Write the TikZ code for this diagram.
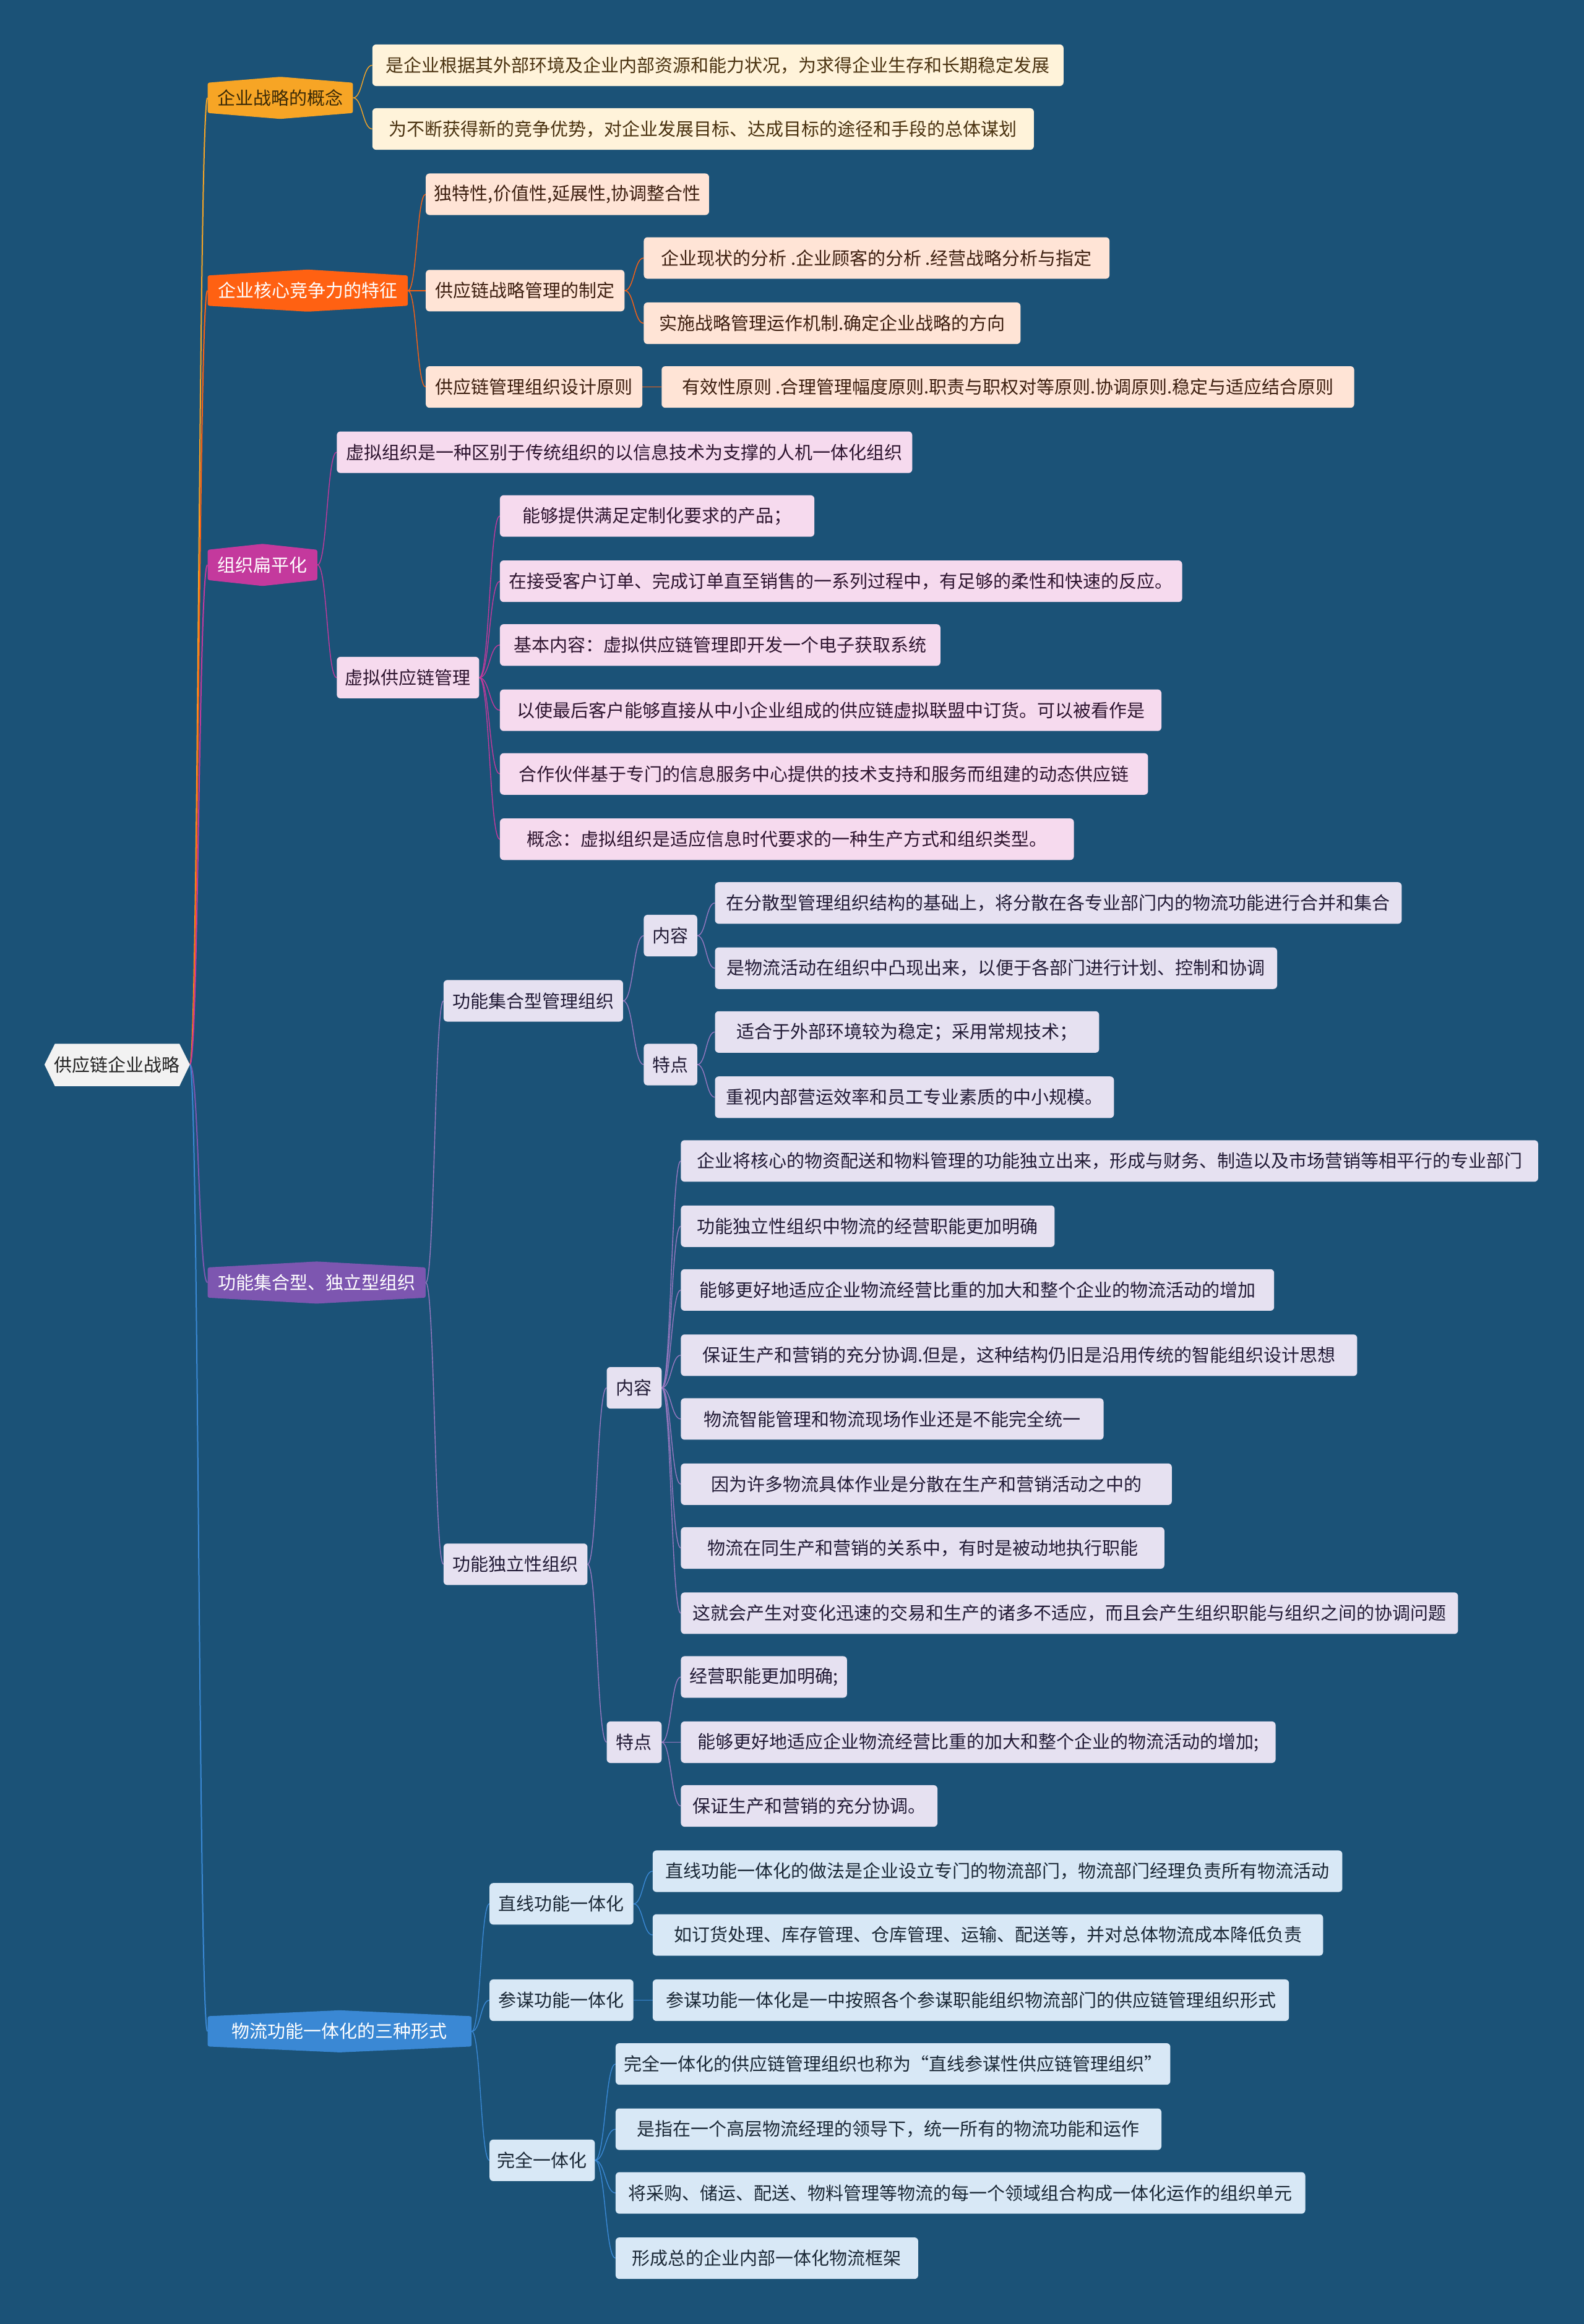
\documentclass[tikz,border=0pt]{standalone}
\usepackage{fontspec}
\setmainfont{Noto Sans CJK SC}
\usetikzlibrary{calc}
\pgfdeclarelayer{back}
\pgfsetlayers{back,main}
\definecolor{bgc}{HTML}{1B5277}
\definecolor{rootfill}{HTML}{F2F2F2}
\definecolor{roottxt}{HTML}{222222}
\definecolor{cA}{HTML}{F7A525}
\definecolor{cB}{HTML}{FF6112}
\definecolor{cC}{HTML}{C4399D}
\definecolor{cD}{HTML}{7D56B0}
\definecolor{cE}{HTML}{3A88D4}
\definecolor{lA}{HTML}{FFF3DA}
\definecolor{lB}{HTML}{FFE4D6}
\definecolor{lC}{HTML}{F6DAEE}
\definecolor{lD}{HTML}{E6E1F1}
\definecolor{lE}{HTML}{D8E8F6}
\definecolor{tA}{HTML}{4A3210}
\definecolor{tB}{HTML}{3D1F10}
\definecolor{tC}{HTML}{2E1530}
\definecolor{tD}{HTML}{221B36}
\definecolor{tE}{HTML}{1B2836}
\definecolor{tL1}{HTML}{3B2A07}
\newcommand\myfs{\fontsize{29pt}{34pt}\selectfont}
\newcommand\conn[3]{%
  \path (#2) coordinate (pA) (#3.west) coordinate (pB) ($(pA)!0.5!(pB)$) coordinate (pM);
  \draw[#1] (pA) .. controls (pM |- pA) and (pM |- pB) .. (pB);}
\newcommand\lone[7]{%
  \fill[#5, rounded corners=3pt] (#2,#4-10.2) -- ({(#2+#3)/2},#4-14.2) -- (#3,#4-10.2) -- (#3,#4+10.2) -- ({(#2+#3)/2},#4+14.2) -- (#2,#4+10.2) -- cycle;
  \node[font=\myfs, text=#6, inner sep=0pt, minimum width={(#3-#2)*2.397pt}, minimum height=20.4*2.397pt] (#1) at ({(#2+#3)/2},#4) {#7};}
\begin{document}
\begin{tikzpicture}[x=2.397pt,y=-2.397pt,
  leaf/.style={rectangle, rounded corners=6pt, minimum height=28*2.397pt, inner xsep=0pt, inner ysep=0pt, anchor=west, font=\myfs},
  bw/.style={minimum width=#1*2.397pt},
  fA/.style={leaf, fill=lA, text=tA},
  fB/.style={leaf, fill=lB, text=tB},
  fC/.style={leaf, fill=lC, text=tC},
  fD/.style={leaf, fill=lD, text=tD},
  fE/.style={leaf, fill=lE, text=tE},
  rl/.style={line width=2pt},
  kA/.style={cA, line width=1.4pt},
  kB/.style={cB, line width=1.4pt},
  kC/.style={cC, line width=1.4pt},
  kD/.style={cD!80!white, line width=1.4pt},
  kE/.style={cE, line width=1.4pt}]
\begin{pgfonlayer}{back}
\fill[bgc] (0,0) rectangle (1068,1567.4);
\end{pgfonlayer}
\useasboundingbox (0,0) rectangle (1068,1567.4);

% root
\fill[rootfill] (37,704) -- (121,704) -- (128,718) -- (121,732.5) -- (37,732.5) -- (30,718) -- cycle;
\node[font=\myfs, text=roottxt, inner sep=0pt] (root) at (79,718) {供应链企业战略};
\coordinate (rootR) at (128,718);

% level 1
\lone{L1}{140}{238}{66}{cA}{tL1}{企业战略的概念}
\lone{L2}{140}{275}{196}{cB}{white}{企业核心竞争力的特征}
\lone{L3}{140}{214}{381}{cC}{white}{组织扁平化}
\lone{L4}{140}{287}{865}{cD}{white}{功能集合型、独立型组织}
\lone{L5}{140}{318}{1370}{cE}{white}{物流功能一体化的三种形式}

% branch 1
\node[fA,bw=466] (a1) at (251,44) {是企业根据其外部环境及企业内部资源和能力状况，为求得企业生存和长期稳定发展};
\node[fA,bw=446] (a2) at (251,87) {为不断获得新的竞争优势，对企业发展目标、达成目标的途径和手段的总体谋划};

% branch 2
\node[fB,bw=191] (b1) at (287,131) {独特性,价值性,延展性,协调整合性};
\node[fB,bw=134] (b2) at (287,196) {供应链战略管理的制定};
\node[fB,bw=314] (b21) at (434,174) {企业现状的分析 .企业顾客的分析 .经营战略分析与指定};
\node[fB,bw=254] (b22) at (434,218) {实施战略管理运作机制.确定企业战略的方向};
\node[fB,bw=146] (b3) at (287,261) {供应链管理组织设计原则};
\node[fB,bw=467] (b31) at (446,261) {有效性原则 .合理管理幅度原则.职责与职权对等原则.协调原则.稳定与适应结合原则};

% branch 3
\node[fC,bw=388] (c1) at (227,305) {虚拟组织是一种区别于传统组织的以信息技术为支撑的人机一体化组织};
\node[fC,bw=96] (c2) at (227,457) {虚拟供应链管理};
\node[fC,bw=212] (c21) at (337,348) {能够提供满足定制化要求的产品；};
\node[fC,bw=460] (c22) at (337,392) {在接受客户订单、完成订单直至销售的一系列过程中，有足够的柔性和快速的反应。};
\node[fC,bw=297] (c23) at (337,435) {基本内容：虚拟供应链管理即开发一个电子获取系统};
\node[fC,bw=446] (c24) at (337,479) {以使最后客户能够直接从中小企业组成的供应链虚拟联盟中订货。可以被看作是};
\node[fC,bw=437] (c25) at (337,522) {合作伙伴基于专门的信息服务中心提供的技术支持和服务而组建的动态供应链};
\node[fC,bw=387] (c26) at (337,566) {概念：虚拟组织是适应信息时代要求的一种生产方式和组织类型。};

% branch 4
\node[fD,bw=121] (d1) at (299,675) {功能集合型管理组织};
\node[fD,bw=36] (d11) at (434,631) {内容};
\node[fD,bw=463] (d111) at (482,609) {在分散型管理组织结构的基础上，将分散在各专业部门内的物流功能进行合并和集合};
\node[fD,bw=379] (d112) at (482,653) {是物流活动在组织中凸现出来，以便于各部门进行计划、控制和协调};
\node[fD,bw=36] (d12) at (434,718) {特点};
\node[fD,bw=259] (d121) at (482,696) {适合于外部环境较为稳定；采用常规技术；};
\node[fD,bw=269] (d122) at (482,740) {重视内部营运效率和员工专业素质的中小规模。};
\node[fD,bw=97] (d2) at (299,1055) {功能独立性组织};
\node[fD,bw=37] (d21) at (409,936) {内容};
\node[fD,bw=578] (d211) at (459,783) {企业将核心的物资配送和物料管理的功能独立出来，形成与财务、制造以及市场营销等相平行的专业部门};
\node[fD,bw=252] (d212) at (459,827) {功能独立性组织中物流的经营职能更加明确};
\node[fD,bw=400] (d213) at (459,870) {能够更好地适应企业物流经营比重的加大和整个企业的物流活动的增加};
\node[fD,bw=456] (d214) at (459,914) {保证生产和营销的充分协调.但是，这种结构仍旧是沿用传统的智能组织设计思想};
\node[fD,bw=285] (d215) at (459,957) {物流智能管理和物流现场作业还是不能完全统一};
\node[fD,bw=331] (d216) at (459,1001) {因为许多物流具体作业是分散在生产和营销活动之中的};
\node[fD,bw=326] (d217) at (459,1044) {物流在同生产和营销的关系中，有时是被动地执行职能};
\node[fD,bw=524] (d218) at (459,1088) {这就会产生对变化迅速的交易和生产的诸多不适应，而且会产生组织职能与组织之间的协调问题};
\node[fD,bw=37] (d22) at (409,1175) {特点};
\node[fD,bw=112] (d221) at (459,1131) {经营职能更加明确;};
\node[fD,bw=401] (d222) at (459,1175) {能够更好地适应企业物流经营比重的加大和整个企业的物流活动的增加;};
\node[fD,bw=173] (d223) at (459,1218) {保证生产和营销的充分协调。};

% branch 5
\node[fE,bw=97] (e1) at (330,1284) {直线功能一体化};
\node[fE,bw=465] (e11) at (440,1262) {直线功能一体化的做法是企业设立专门的物流部门，物流部门经理负责所有物流活动};
\node[fE,bw=452] (e12) at (440,1305) {如订货处理、库存管理、仓库管理、运输、配送等，并对总体物流成本降低负责};
\node[fE,bw=97] (e2) at (330,1349) {参谋功能一体化};
\node[fE,bw=429] (e21) at (440,1349) {参谋功能一体化是一中按照各个参谋职能组织物流部门的供应链管理组织形式};
\node[fE,bw=71] (e3) at (330,1457) {完全一体化};
\node[fE,bw=374] (e31) at (415,1392) {完全一体化的供应链管理组织也称为“直线参谋性供应链管理组织”};
\node[fE,bw=368] (e32) at (415,1436) {是指在一个高层物流经理的领导下，统一所有的物流功能和运作};
\node[fE,bw=465] (e33) at (415,1479) {将采购、储运、配送、物料管理等物流的每一个领域组合构成一体化运作的组织单元};
\node[fE,bw=204] (e34) at (415,1523) {形成总的企业内部一体化物流框架};

\begin{pgfonlayer}{back}
\conn{rl,cA}{rootR}{L1}
\conn{rl,cB}{rootR}{L2}
\conn{rl,cC}{rootR}{L3}
\conn{rl,cD}{rootR}{L4}
\conn{rl,cE}{rootR}{L5}
\conn{kA}{L1.east}{a1}
\conn{kA}{L1.east}{a2}
\conn{kB}{L2.east}{b1}
\conn{kB}{L2.east}{b2}
\conn{kB}{L2.east}{b3}
\conn{kB}{b2.east}{b21}
\conn{kB}{b2.east}{b22}
\conn{kB}{b3.east}{b31}
\conn{kC}{L3.east}{c1}
\conn{kC}{L3.east}{c2}
\foreach \i in {1,...,6}{\conn{kC}{c2.east}{c2\i}}
\conn{kD}{L4.east}{d1}
\conn{kD}{L4.east}{d2}
\conn{kD}{d1.east}{d11}
\conn{kD}{d1.east}{d12}
\conn{kD}{d11.east}{d111}
\conn{kD}{d11.east}{d112}
\conn{kD}{d12.east}{d121}
\conn{kD}{d12.east}{d122}
\conn{kD}{d2.east}{d21}
\conn{kD}{d2.east}{d22}
\foreach \i in {1,...,8}{\conn{kD}{d21.east}{d21\i}}
\foreach \i in {1,2,3}{\conn{kD}{d22.east}{d22\i}}
\conn{kE}{L5.east}{e1}
\conn{kE}{L5.east}{e2}
\conn{kE}{L5.east}{e3}
\conn{kE}{e1.east}{e11}
\conn{kE}{e1.east}{e12}
\conn{kE}{e2.east}{e21}
\foreach \i in {1,...,4}{\conn{kE}{e3.east}{e3\i}}
\end{pgfonlayer}
\end{tikzpicture}
\end{document}
